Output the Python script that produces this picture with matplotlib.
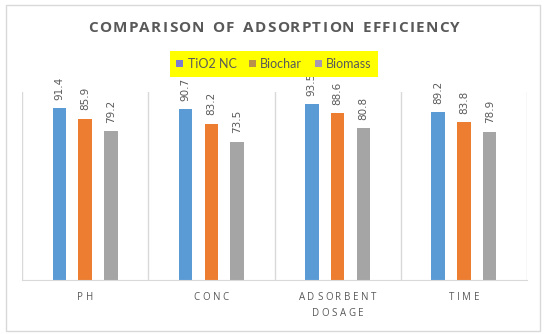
import matplotlib
matplotlib.use("Agg")
import matplotlib.pyplot as plt
from matplotlib.patches import Rectangle, Patch
import numpy as np

categories = ["PH", "CONC", "ADSORBENT\nDOSAGE", "TIME"]
series_names = ["TiO2 NC", "Biochar", "Biomass"]
tio2 = [91.4, 90.7, 93.5, 89.2]
biochar = [85.9, 83.2, 88.6, 83.8]
biomass = [79.2, 73.5, 80.8, 78.9]
title = "COMPARISON OF ADSORPTION EFFICIENCY"

bar_colors = ["#5B9BD5", "#ED7D31", "#A5A5A5"]
legend_colors = ["#7B7BD3", "#B8914A", "#A899B2"]
txt_color = "#595959"
grid_color = "#D9D9D9"

W, H = 550, 334
fig = plt.figure(figsize=(W / 100, H / 100), dpi=100)
fig.patch.set_facecolor("white")

# outer chart border
fig.patches.append(Rectangle((6 / W, 1 - 331 / H), (540 - 6) / W, (331 - 5) / H,
                             transform=fig.transFigure, fill=False,
                             edgecolor=grid_color, lw=1.0))

ax = fig.add_axes([22 / W, 1 - 280 / H, 505 / W, 188 / H])
ax.set_xlim(-0.5, 3.5)
ax.set_ylim(0, 100)
for s in ["top", "left", "right"]:
    ax.spines[s].set_visible(False)
ax.spines["bottom"].set_color(grid_color)
ax.set_yticks([])
ax.set_xticks([])
for xv in np.arange(-0.5, 4.0, 1.0):
    ax.axvline(xv, color=grid_color, lw=1.0, zorder=0)

x = np.arange(len(categories))
bw = 0.107
off = 0.204
for i, (vals, col) in enumerate(zip([tio2, biochar, biomass], bar_colors)):
    pos = x + (i - 1) * off
    bars = ax.bar(pos, vals, width=bw, color=col, zorder=2)
    for p, v in zip(pos, vals):
        ax.annotate(f"{v:.1f}", (p, v), xytext=(0, 6), textcoords="offset points",
                    rotation=90, ha="center", va="bottom", fontsize=7.5,
                    color=txt_color, family="DejaVu Sans")

fig.canvas.draw()
renderer = fig.canvas.get_renderer()


def spaced_text(xc_px, yc_px, s, spacing_px, **kw):
    # draw text with extra letter spacing, centred at xc_px (pixels from left), yc_px (pixels from top)
    from matplotlib.font_manager import FontProperties
    fp = FontProperties(family=kw.get("family"), size=kw.get("fontsize"),
                        weight=kw.get("weight", "normal"))
    widths = []
    for ch in s:
        if ch == " ":
            w, _, _ = renderer.get_text_width_height_descent("n", fp, ismath=False)
            widths.append(w * 0.55)
        else:
            w, _, _ = renderer.get_text_width_height_descent(ch, fp, ismath=False)
            widths.append(w)
    total = sum(widths) + spacing_px * (len(s) - 1)
    xp = xc_px - total / 2
    for ch, w in zip(s, widths):
        if ch != " ":
            fig.text(xp / W, 1 - yc_px / H, ch, ha="left", va="center",
                     fontproperties=fp, color=kw.get("color", txt_color))
        xp += w + spacing_px


spaced_text(274, 28, title, 1.3, family="Open Sans", fontsize=11, weight="bold",
            color=txt_color)

# category labels
cat_centers_px = [22 + 505 / 8 * (2 * k + 1) for k in range(len(categories))]
for cx, lab in zip(cat_centers_px, categories):
    for li, line in enumerate(lab.split("\n")):
        spaced_text(cx, 297 + li * 16, line, 2.6, family="Open Sans", fontsize=7,
                    color=txt_color)

handles = [Patch(facecolor=c, edgecolor="none") for c in legend_colors]
leg = fig.legend(handles, series_names, loc="center", bbox_to_anchor=(274 / W, 1 - 64 / H),
                 ncol=3, frameon=True, facecolor="#FFFF00", edgecolor="none",
                 fancybox=False, framealpha=1, handlelength=0.55, handleheight=0.55,
                 handletextpad=0.35, columnspacing=1.0, borderpad=0.55,
                 prop={"family": "Lato", "size": 9})
for t in leg.get_texts():
    t.set_color(txt_color)

fig.savefig("out.png", dpi=100, facecolor="white")
